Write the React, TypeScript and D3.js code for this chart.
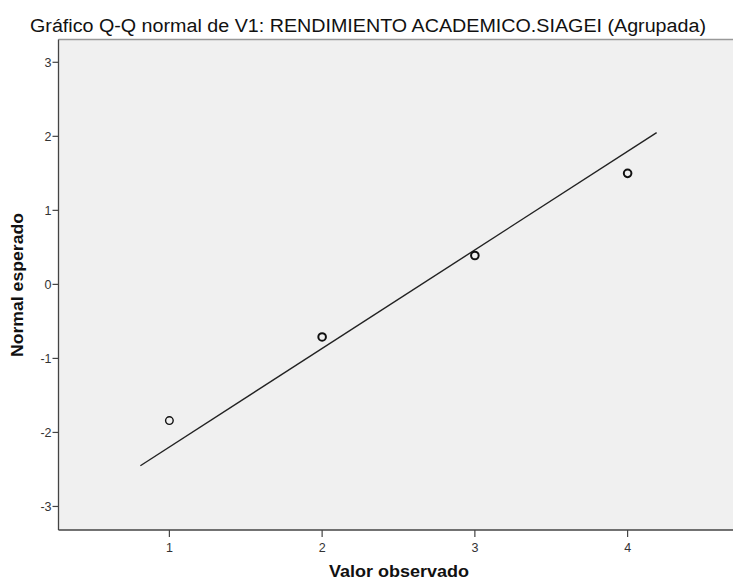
import React from "react";
import * as d3 from "d3";

const title = "Gráfico Q-Q normal de V1: RENDIMIENTO ACADEMICO.SIAGEI (Agrupada)";
const xLabel = "Valor observado";
const yLabel = "Normal esperado";

const observed = [1, 2, 3, 4];
const expected = [-1.84, -0.71, 0.39, 1.5];
const pointWeight = [1.4, 2, 2, 2];

const lineX = [0.81, 4.19];
const lineY = [-2.45, 2.05];

const xTicks = [1, 2, 3, 4];
const yTicks = [3, 2, 1, 0, -1, -2, -3];

const W = 733;
const H = 581;
const left = 58.5;
const right = 733;
const top = 39.5;
const bottom = 530;
const font = "'Liberation Sans', Arial, sans-serif";

export default function App() {
  const x = d3.scaleLinear().domain([0.274, 4.69]).range([left, right]);
  const y = d3.scaleLinear().domain([-3.318, 3.308]).range([bottom, top]);
  const line = d3
    .line<number>()
    .x((d, i) => x(lineX[i]))
    .y((d, i) => y(lineY[i]));

  return (
    <svg
      width={W}
      height={H}
      style={{ position: "absolute", left: 0, top: 0, background: "#fff" }}
      fontFamily={font}
    >
      <text
        x={368}
        y={32}
        textAnchor="middle"
        fontSize={18}
        fill="#111"
        textLength={676}
        lengthAdjust="spacingAndGlyphs"
      >
        {title}
      </text>
      <rect x={left} y={top} width={right - left} height={bottom - top} fill="#f0f0f0" />
      <line x1={left} x2={right} y1={top} y2={top} stroke="#999" strokeWidth={1.5} />
      <line x1={left} x2={left} y1={top} y2={bottom} stroke="#444" strokeWidth={1.3} />
      <line x1={left} x2={right} y1={bottom} y2={bottom} stroke="#444" strokeWidth={1.5} />

      {yTicks.map((t) => (
        <g key={"y" + t}>
          <line x1={left - 6} x2={left} y1={y(t)} y2={y(t)} stroke="#444" strokeWidth={1.2} />
          <text x={left - 7} y={y(t) + 4.5} textAnchor="end" fontSize={12.5} fill="#333">
            {t < 0 ? "-" + Math.abs(t) : String(t)}
          </text>
        </g>
      ))}
      {xTicks.map((t) => (
        <g key={"x" + t}>
          <line x1={x(t)} x2={x(t)} y1={bottom} y2={bottom + 7} stroke="#444" strokeWidth={1.2} />
          <text x={x(t)} y={bottom + 22} textAnchor="middle" fontSize={12.5} fill="#333">
            {t}
          </text>
        </g>
      ))}

      <path d={line(lineX) || ""} fill="none" stroke="#222" strokeWidth={1.4} />

      {observed.map((v, i) => (
        <circle
          key={"p" + i}
          cx={x(v)}
          cy={y(expected[i])}
          r={3.8}
          fill="none"
          stroke="#111"
          strokeWidth={pointWeight[i]}
        />
      ))}

      <text
        x={399}
        y={577}
        textAnchor="middle"
        fontSize={16}
        fontWeight="bold"
        fill="#111"
        textLength={140}
        lengthAdjust="spacingAndGlyphs"
      >
        {xLabel}
      </text>
      <text
        transform={`translate(23,${285}) rotate(-90)`}
        textAnchor="middle"
        fontSize={16}
        fontWeight="bold"
        fill="#111"
        textLength={144}
        lengthAdjust="spacingAndGlyphs"
      >
        {yLabel}
      </text>
    </svg>
  );
}
